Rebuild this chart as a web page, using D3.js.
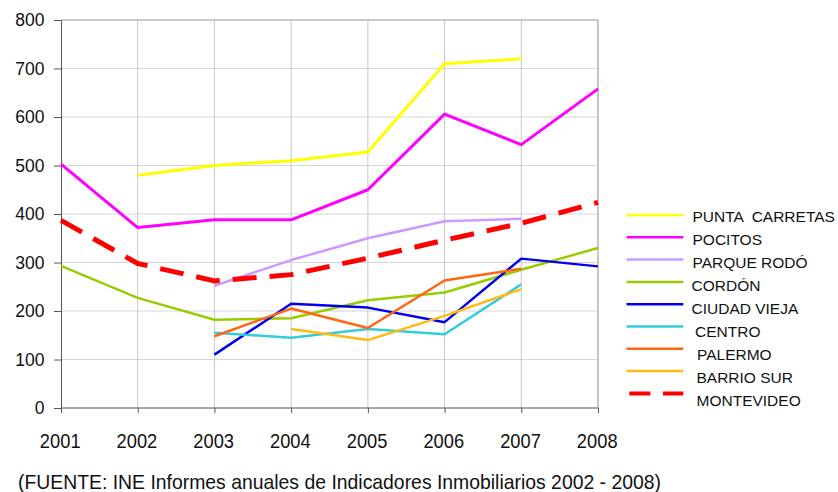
<!DOCTYPE html>
<html><head><meta charset="utf-8">
<script src="https://cdn.jsdelivr.net/npm/d3@7"></script>
<style>body{margin:0;background:#fff}svg{display:block;font-family:"Liberation Sans",Arial,sans-serif}</style>
</head><body><svg id="c" width="838" height="492"></svg>
<script>
const years = [2001, 2002, 2003, 2004, 2005, 2006, 2007, 2008];
const yTicks = [0, 100, 200, 300, 400, 500, 600, 700, 800];
const seriesNames = ["PUNTA  CARRETAS", "POCITOS", "PARQUE RODÓ", "CORDÓN", "CIUDAD VIEJA", "CENTRO", "PALERMO", "BARRIO SUR", "MONTEVIDEO"];
const puntaCarretas = [null, 480, 500, 510, 528, 710, 720, null];
const pocitos = [503, 372, 388, 388, 450, 606, 543, 658];
const parqueRodo = [null, null, 252, 305, 350, 385, 390, null];
const cordon = [293, 227, 182, 185, 222, 238, 285, 330];
const ciudadVieja = [null, null, 110, 215, 207, 177, 308, 292];
const centro = [null, null, 155, 145, 163, 152, 255, null];
const palermo = [null, null, 148, 205, 165, 263, 287, null];
const barrioSur = [null, null, null, 163, 140, 190, 245, null];
const montevideo = [387, 298, 262, 275, 309, 346, 381, 424];
const sourceText = "(FUENTE: INE Informes anuales de Indicadores Inmobiliarios 2002 - 2008)";

const seriesValues = [puntaCarretas, pocitos, parqueRodo, cordon, ciudadVieja, centro, palermo, barrioSur, montevideo];
const colors = ["#FFFF00", "#FF00FF", "#CC99FF", "#99CC00", "#0000EE", "#33CCDD", "#FF6611", "#FFBB11", "#FF0000"];
const widths = [3, 3, 2.5, 2.5, 2.5, 2.5, 2.5, 2.5, 5];
const legendTextX = [692.5, 692.5, 692.5, 691.5, 691.5, 695, 697, 696.5, 696.5];

const svg = d3.select("#c");
const L = 61, R = 598, T = 20, B = 408;
const x = d3.scalePoint().domain(years).range([L, R]);
const y = d3.scaleLinear().domain([0, 800]).range([B, T]);

// grid
svg.append("g").selectAll("line").data(yTicks.filter(d => d > 0)).join("line")
  .attr("x1", L).attr("x2", R).attr("y1", d => y(d)).attr("y2", d => y(d))
  .attr("stroke", "#d6d6d6").attr("stroke-width", 1);
svg.append("g").selectAll("line").data(years.slice(1)).join("line")
  .attr("x1", d => x(d)).attr("x2", d => x(d)).attr("y1", T).attr("y2", B)
  .attr("stroke", "#c8c8c8").attr("stroke-width", 1);
svg.append("line").attr("x1", L).attr("x2", R).attr("y1", T).attr("y2", T).attr("stroke", "#aaa");
svg.append("line").attr("x1", R).attr("x2", R).attr("y1", T).attr("y2", B).attr("stroke", "#aaa");

// axes
const yAxis = svg.append("g").attr("transform", `translate(${L},0)`)
  .call(d3.axisLeft(y).tickValues(yTicks).tickSize(7).tickPadding(9.5));
yAxis.select(".domain").attr("stroke", "#555");
yAxis.selectAll(".tick line").attr("stroke", "#555");
yAxis.selectAll("text").attr("font-size", 17.5).attr("fill", "#111").attr("font-family", "Liberation Sans, Arial, sans-serif");

const xAxis = svg.append("g").attr("transform", `translate(0,${B})`)
  .call(d3.axisBottom(x).tickValues(years).tickFormat(d3.format("d")).tickSize(5));
xAxis.select(".domain").attr("stroke", "#555").attr("d", `M${L},0H${R}`);
xAxis.selectAll(".tick line").attr("stroke", "#555");
xAxis.selectAll("text")
  .attr("font-size", 21).attr("fill", "#111").attr("font-family", "Liberation Sans, Arial, sans-serif")
  .attr("dy", null).attr("y", 40.3).attr("x", -1.3)
  .attr("textLength", 40.7).attr("lengthAdjust", "spacingAndGlyphs");

// lines
const line = d3.line().defined(d => d.v != null).x(d => x(d.yr)).y(d => y(d.v));
seriesValues.forEach((vals, i) => {
  const pts = years.map((yr, j) => ({yr, v: vals[j]}));
  svg.append("path").datum(pts).attr("d", line).attr("fill", "none")
    .attr("stroke", colors[i]).attr("stroke-width", widths[i])
    .attr("stroke-linejoin", "round")
    .attr("stroke-dasharray", i === 8 ? "24,13" : null);
});

// legend
const lg = svg.append("g");
seriesNames.forEach((name, i) => {
  const ly = 215 + i * 22.3;
  const ty = 216 + i * 23;
  lg.append("line").attr("x1", i === 8 ? 629.3 : 626.5).attr("x2", 683.3).attr("y1", ly).attr("y2", ly)
    .attr("stroke", colors[i]).attr("stroke-width", i === 8 ? 4 : 2.5)
    .attr("stroke-dasharray", i === 8 ? "21,12.7" : null);
  lg.append("text").attr("x", legendTextX[i]).attr("y", ty + 5.8)
    .attr("xml:space", "preserve").style("white-space", "pre")
    .attr("font-size", 15.5).attr("fill", "#111").text(name);
});

svg.append("text").attr("x", 18).attr("y", 488.5).attr("font-size", 21)
  .attr("textLength", 643).attr("lengthAdjust", "spacingAndGlyphs")
  .attr("fill", "#111").text(sourceText);
</script></body></html>
